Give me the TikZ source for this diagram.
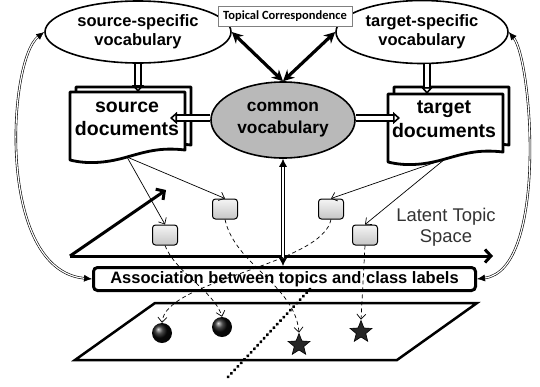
\documentclass[tikz,border=0pt]{standalone}
\usepackage{fontspec}
\setmainfont{Liberation Sans}
\newfontfamily\carlito{Carlito}
\usetikzlibrary{arrows.meta,shapes.geometric}

\begin{document}
\begin{tikzpicture}
        [x=1pt,y=-1pt,
        vocab/.style={draw,ellipse,line width=1.6pt,inner sep=0pt,align=center,
            font=\fontsize{16.5}{19}\selectfont\bfseries},
        doctext/.style={align=center,font=\fontsize{19.5}{23.5}\selectfont\bfseries},
        docline/.style={line width=2.8pt,fill=white,line join=round},
        hollow/.style={double,line width=1.6pt,double distance=4pt,
            -{Triangle[open,length=7pt,width=12pt]}},
        corr/.style={line width=3.2pt,{Stealth[length=11pt,width=11pt]}-{Stealth[length=11pt,width=11pt]}},
        side/.style={double,line width=0.6pt,double distance=1.2pt,
            {Latex[length=8pt,width=7pt]}-{Latex[length=8pt,width=7pt]}},
        vdouble/.style={double,line width=0.7pt,double distance=2.5pt,
            {Latex[length=8pt,width=8pt]}-{Latex[length=8pt,width=8pt]}},
        axis/.style={line width=3pt,-{Straight Barb[length=6pt,width=13pt]}},
        topic/.style={draw,line width=1pt,rounded corners=3pt,minimum width=25pt,
            minimum height=20pt,top color=gray!8,bottom color=gray!45},
        thin arrow/.style={line width=0.7pt,-{Straight Barb[length=5pt,width=9pt]}},
        dash arrow/.style={thin arrow,dash pattern=on 4pt off 3pt},
        point/.style={circle,inner sep=0pt,minimum size=20pt,shading=ball,ball color=black!95},
        starpt/.style={star,star points=5,star point ratio=2.3,minimum size=23pt,
            inner sep=0pt,fill=black!85,draw=black,line width=0.6pt},
        circle dotted/.style={line width=3.2pt,dash pattern=on 0.4pt off 4.4pt,line cap=round}]
            \useasboundingbox (0,0) rectangle (540,386);
            %disegno vocabolari
            \node[vocab,minimum width=186pt,minimum height=62pt] (src) at (138,32) {source-specific\\vocabulary};
            \node[vocab,minimum width=172pt,minimum height=63pt] (tgt) at (422,32) {target-specific\\vocabulary};
            \node[vocab,fill=gray!55,minimum width=144pt,minimum height=76pt,
                font=\fontsize{17.3}{22}\selectfont\bfseries] (common) at (283,120) {common\\vocabulary};
            \node[draw=gray,line width=0.6pt,fill=white,minimum width=134pt,minimum height=20pt,inner sep=1pt,
                font=\carlito\bfseries\fontsize{12.5}{14}\selectfont] (topcor) at (285,16) {Topical Correspondence};
            %frecce corrispondenza
            \draw[corr] (src.east) -- (common.north);
            \draw[corr] (tgt.west) -- (common.north);
            %disegno documenti
            \foreach \dx/\dy in {76/87,70/92,394/87,388/94}
                \draw[docline,shift={(\dx,\dy)}] (0,0) -- (115,0) -- (115,58)
                    .. controls (90,55) and (75,60) .. (57,65)
                    .. controls (40,70) and (20,73) .. (0,68) -- cycle;
            \node[doctext] (srcdoc) at (127,119) {source\\documents};
            \node[doctext] (tgtdoc) at (444,119) {target\\documents};
            \coordinate (srctop) at (138,92);
            \coordinate (tgttop) at (427,94);
            \coordinate (srcin) at (170,118);
            \coordinate (tgtin) at (400,118);
            \coordinate (srcbot) at (127,157);
            \coordinate (tgtbot) at (445,159);
            %frecce vuote
            \draw[hollow] (src.south) -- (srctop);
            \draw[hollow] (tgttop |- tgt.south) -- (tgttop);
            \draw[hollow] (common.west |- srcin) -- (srcin);
            \draw[hollow] (common.east |- tgtin) -- (tgtin);
            %spazio dei topic
            \node[font=\fontsize{18.4}{21}\selectfont,align=center,text=black!80] (lts) at (446,227) {Latent Topic\\Space};
            \coordinate (orig) at (70,256);
            \coordinate (xend) at (493,256);
            \coordinate (yend) at (166,190);
            \draw[axis] (orig) -- (xend);
            \draw[axis] (orig) -- (yend);
            %topic
            \node[topic] (t1) at (165,235) {};
            \node[topic] (t2) at (225,209) {};
            \node[topic] (t3) at (331,209) {};
            \node[topic] (t4) at (365,235) {};
            \draw[thin arrow] (srcbot) -- (t1.north);
            \draw[thin arrow] (srcbot) -- (t2.north);
            \draw[thin arrow] (tgtbot) -- (t3.north);
            \draw[thin arrow] (tgtbot) -- (t4.north);
            %associazione
            \node[draw,line width=3pt,rounded corners=4pt,fill=white,minimum width=382pt,minimum height=23pt,
                font=\fontsize{16.5}{19}\selectfont\bfseries] (assoc) at (284.5,279) {Association between topics and class labels};
            \draw[vdouble] (common.south) -- (common.south |- assoc.north);
            \draw[side] (src.west) .. controls (8,60) and (-4,270) .. (assoc.west);
            \draw[side] (tgt.east) .. controls (532,60) and (548,270) .. (assoc.east);
            %piano delle etichette
            \draw[line width=2.5pt] (155,303) -- (477,303) -- (397,360) -- (75,360) -- cycle;
            \node[point] (c1) at (162,333) {};
            \node[point] (c2) at (222,327) {};
            \node[starpt] (s1) at (299,345) {};
            \node[starpt] (s2) at (361,332) {};
            \coordinate (db1) at (228,377);
            \coordinate (db2) at (311,288);
            \draw[circle dotted] (db1) -- (db2);
            %tratteggi topic-etichette
            \draw[dash arrow] (t1.south) .. controls (175,272) and (215,292) .. (c2.north);
            \draw[dash arrow] (t2.south) .. controls (235,265) and (295,285) .. (s1.north);
            \draw[dash arrow] (t3.south) .. controls (322,265) and (165,280) .. (c1.north);
            \draw[dash arrow] (t4.south) -- (s2.north);
    \end{tikzpicture}
\end{document}
